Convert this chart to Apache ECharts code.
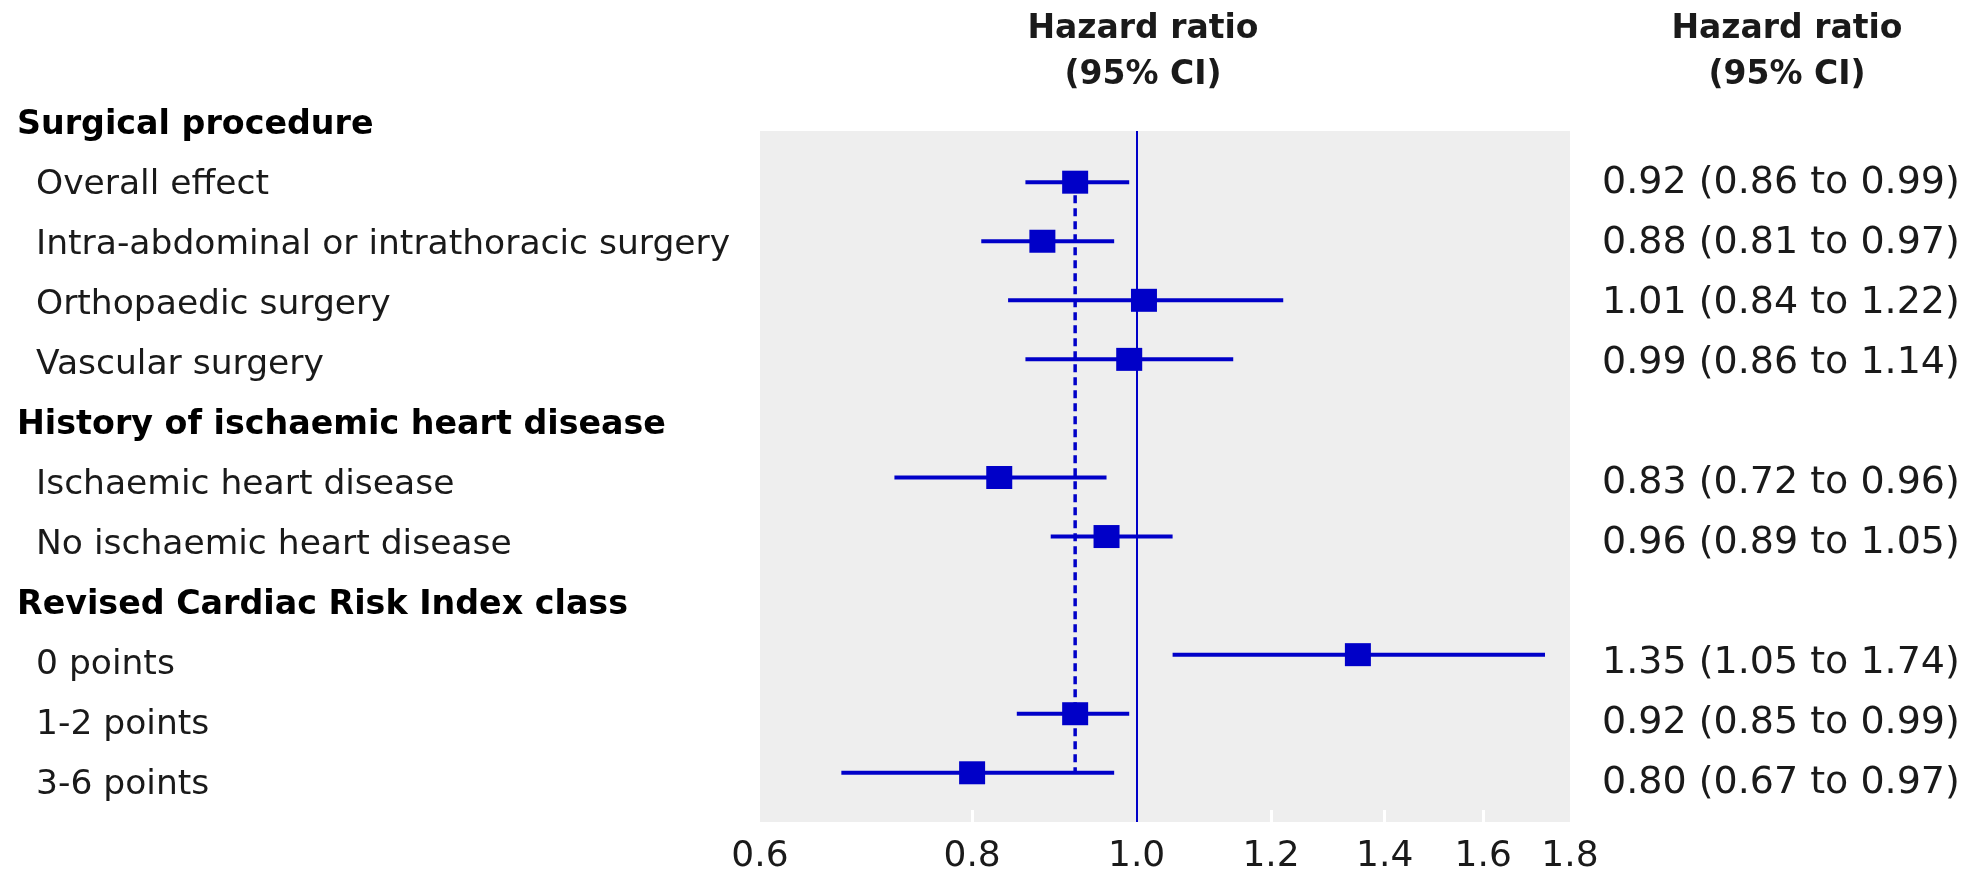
<!DOCTYPE html>
<html>
<head>
<meta charset="utf-8">
<script src="https://cdn.jsdelivr.net/npm/echarts@6/dist/echarts.min.js"></script>
<style>html,body{margin:0;padding:0;background:#fff}#c{width:1964px;height:875px}</style>
</head>
<body>
<div id="c"></div>
<script>
// ---- data ----
var rowLabels = ["Surgical procedure","Overall effect","Intra-abdominal or intrathoracic surgery","Orthopaedic surgery","Vascular surgery","History of ischaemic heart disease","Ischaemic heart disease","No ischaemic heart disease","Revised Cardiac Risk Index class","0 points","1-2 points","3-6 points"];
var isHeader = [1,0,0,0,0,1,0,0,1,0,0,0];
var hr   = [null,0.92,0.88,1.01,0.99,null,0.83,0.96,null,1.35,0.92,0.80];
var lo   = [null,0.86,0.81,0.84,0.86,null,0.72,0.89,null,1.05,0.85,0.67];
var hi   = [null,0.99,0.97,1.22,1.14,null,0.96,1.05,null,1.74,0.99,0.97];
var xTickLabels = [0.6,0.8,1.0,1.2,1.4,1.6,1.8];
var xInnerTicks = [0.8,1.2,1.4,1.6];
var overallHR = 0.92;
var nullEffect = 1.0;
var headerText = "Hazard ratio\n(95% CI)";

// ---- styling ----
var FONT = "DejaVu Sans";
var BLUE = "#0000c8";
var TXT = "#1a1a1a";

var ciData = [];
for (var i = 0; i < rowLabels.length; i++) {
  if (hr[i] != null) ciData.push([hr[i], i, lo[i], hi[i]]);
}
var firstRow = 1, lastRow = rowLabels.length - 1;

function fmt(v){ return v.toFixed(2); }

var chart = echarts.init(document.getElementById('c'), null, {renderer:'canvas'});
chart.setOption({
  animation: false,
  backgroundColor: '#fff',
  title: [
    {text: headerText, left: 1138, top: 1, textAlign: 'center',
     textStyle:{fontFamily:FONT, fontWeight:'bold', fontSize:33, lineHeight:46, color:TXT}},
    {text: headerText, left: 1782, top: 1, textAlign: 'center',
     textStyle:{fontFamily:FONT, fontWeight:'bold', fontSize:33, lineHeight:46, color:TXT}}
  ],
  grid: [
    {left: 760, top: 131, width: 810, height: 702, show: true, backgroundColor: '#eeeeee', borderWidth: 0},
    {left: 760, top: 93, width: 810, height: 720, show: false}
  ],
  xAxis: [
    {gridIndex: 0, type: 'log', logBase: 10, min: 0.6, max: 1.8,
     axisLine:{show:false},
     splitLine:{show:false},
     axisTick:{show:true, inside:true, length:12, customValues: xInnerTicks, lineStyle:{color:'#ffffff', width:3}},
     axisLabel:{show:true, customValues: xTickLabels, margin: 17, fontFamily:FONT, fontSize:36, color:TXT,
       formatter:function(v){ return Number(v).toFixed(1); }}},
    {gridIndex: 1, type: 'value', show: false}
  ],
  yAxis: [
    {gridIndex: 0, type: 'value', inverse: true, min: (131-123)/60, max: (833-123)/60, show: false},
    {gridIndex: 1, type: 'category', inverse: true, data: rowLabels, position: 'left',
     axisLine:{show:false}, axisTick:{show:false}, splitLine:{show:false},
     axisLabel:{show:true, interval:0, align:'left', margin: 743,
       formatter:function(v, idx){ return isHeader[idx] ? '{h|' + v + '}' : '{i|' + v + '}'; },
       rich:{
         h:{fontFamily:FONT, fontWeight:'bold', fontSize:33.3, color:'#000', padding:[4,0,0,0]},
         i:{fontFamily:FONT, fontSize:34.5, color:TXT, padding:[4,0,0,19]}
       }}},
    {gridIndex: 1, type: 'category', inverse: true, data: rowLabels, position: 'right',
     axisLine:{show:false}, axisTick:{show:false}, splitLine:{show:false},
     axisLabel:{show:true, interval:0, align:'left', margin: 32, fontFamily:FONT, fontSize:38, color:TXT,
       formatter:function(v, idx){ return hr[idx] == null ? '' : fmt(hr[idx]) + ' (' + fmt(lo[idx]) + ' to ' + fmt(hi[idx]) + ')'; }}}
  ],
  series: [
    {type:'line', xAxisIndex:0, yAxisIndex:0, z:2, symbol:'none', silent:true,
     data:[[overallHR, firstRow],[overallHR, lastRow]],
     lineStyle:{color:BLUE, width:3.5, type:[8,5]},
     markLine:{silent:true, symbol:'none', label:{show:false},
       lineStyle:{color:BLUE, width:2, type:'solid'},
       data:[{xAxis: nullEffect}]}},
    {type:'custom', xAxisIndex:0, yAxisIndex:0, z:3, silent:true,
     data: ciData,
     encode:{x:[0,2,3], y:1},
     renderItem:function(params, api){
       var y = api.value(1);
       var pLo = api.coord([api.value(2), y]);
       var pHi = api.coord([api.value(3), y]);
       var pC  = api.coord([api.value(0), y]);
       var w = 26, h = 23;
       return {type:'group', children:[
         {type:'line', shape:{x1:pLo[0], y1:pLo[1], x2:pHi[0], y2:pHi[1]}, style:{stroke:BLUE, lineWidth:4}},
         {type:'rect', shape:{x:pC[0]-w/2, y:pC[1]-h/2, width:w, height:h}, style:{fill:BLUE}}
       ]};
     }}
  ]
});
</script>
</body>
</html>
